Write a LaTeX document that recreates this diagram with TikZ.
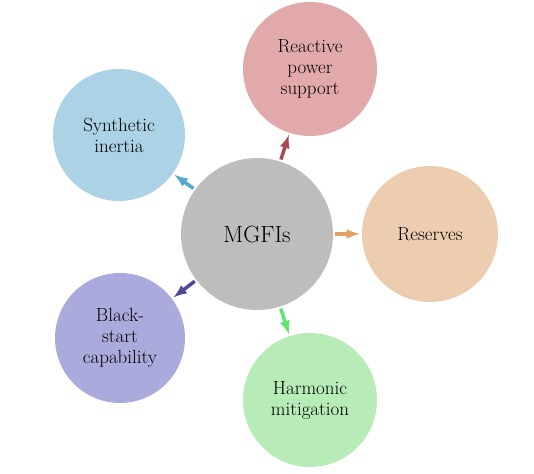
\documentclass[tikz,border=0pt]{standalone}
\usetikzlibrary{arrows}

\definecolor{hubgray}{HTML}{BDBDBD}
\definecolor{reactfill}{HTML}{E2A9AA}
\definecolor{reactarrow}{HTML}{A84B50}
\definecolor{inertfill}{HTML}{ABD3E5}
\definecolor{inertarrow}{HTML}{4FABD0}
\definecolor{reservefill}{HTML}{ECCDB0}
\definecolor{reservearrow}{HTML}{E3A264}
\definecolor{harmfill}{HTML}{B7EBB7}
\definecolor{harmarrow}{HTML}{5EE46F}
\definecolor{blackfill}{HTML}{AAAADC}
\definecolor{blackarrow}{HTML}{4A4A99}

\tikzset{
	bubble/.style={circle, minimum size=134pt, inner sep=0pt, align=center,
		text=black, font=\fontsize{19}{21}\selectfont},
	feed/.style={-latex, line width=3.5pt, shorten <=2pt, shorten >=2pt}
}

\begin{document}
\begin{tikzpicture}[x=1pt, y=-1pt]
	\useasboundingbox (0,0) rectangle (534,473);

	% Centre circle
	\node[circle, fill=hubgray, minimum size=152pt, inner sep=0pt, text=black,
		font=\fontsize{23.5}{26}\selectfont] (mgfi) at (257,234) {MGFIs};

	% Service circles
	\node[bubble, fill=reactfill] (react) at (310,69) {Reactive\\power\\support};
	\node[bubble, fill=inertfill, minimum size=132pt] (inert) at (119,135) {Synthetic\\inertia};
	\node[bubble, fill=reservefill, minimum size=136pt] (reserve) at (430,234) {Reserves};
	\node[bubble, fill=harmfill] (harm) at (310,400) {Harmonic\\mitigation};
	\node[bubble, fill=blackfill, minimum size=130pt] (black) at (120,338) {Black-\\start\\capability};

	% Arrows out of the centre
	\draw[feed, reactarrow] (mgfi) -- (react);
	\draw[feed, inertarrow] (mgfi) -- (inert);
	\draw[feed, reservearrow] (mgfi) -- (reserve);
	\draw[feed, harmarrow] (mgfi) -- (harm);
	\draw[feed, blackarrow] (mgfi) -- (black);
\end{tikzpicture}
\end{document}
